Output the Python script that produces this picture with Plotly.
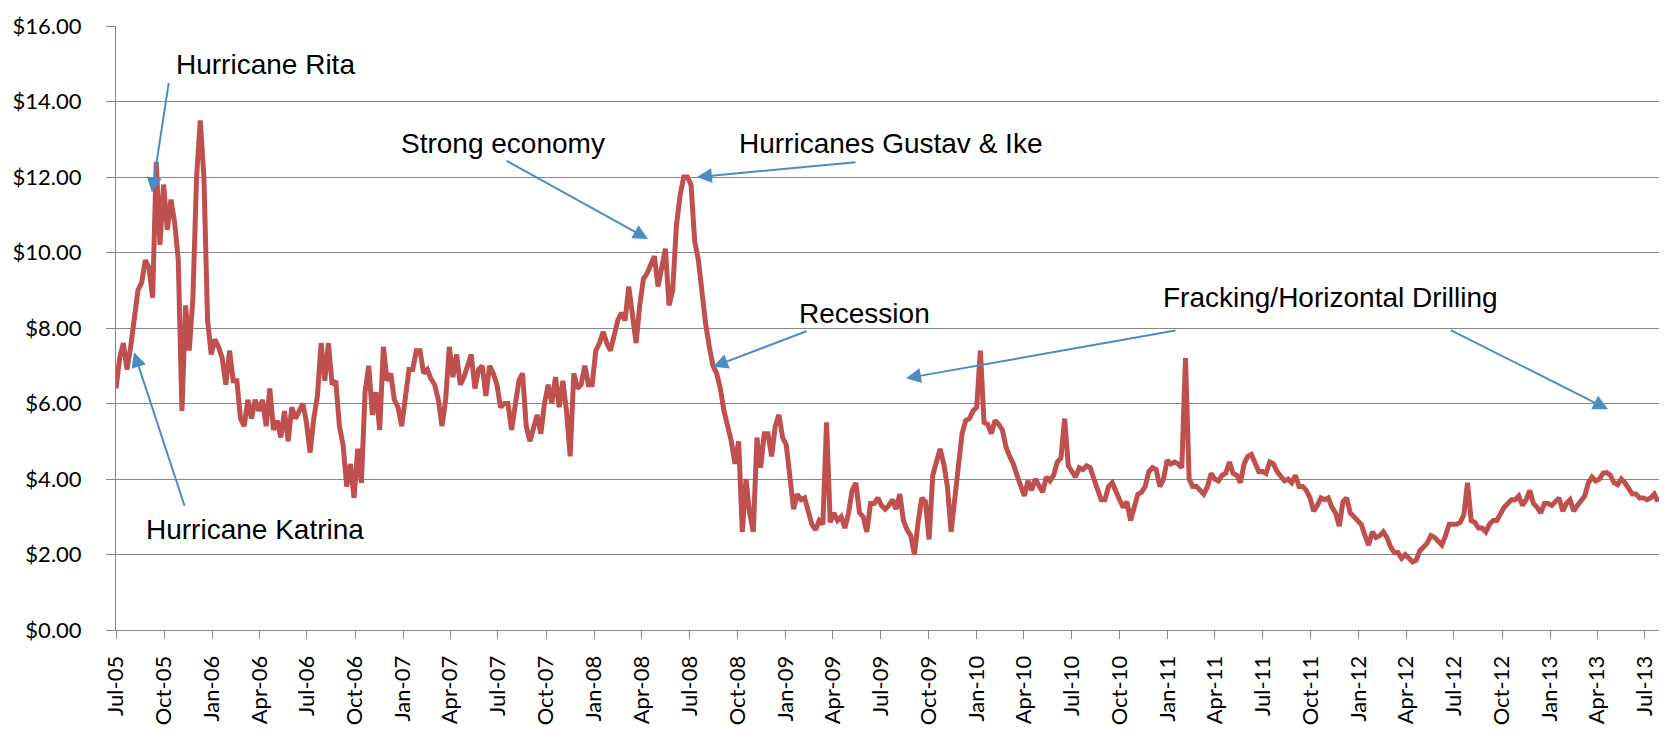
import pandas as pd
import plotly.graph_objects as go

# Henry Hub spot price, weekly samples starting 1 Jul 2005 ($/MMBtu)
start_date = "2005-07-01"
prices = [
    6.4, 7.2, 7.6, 6.9, 7.5, 8.2, 9.0, 9.2, 9.8, 9.6,
    8.8, 12.4, 10.2, 11.8, 10.6, 11.4, 10.8, 9.8, 5.8, 8.6,
    7.4, 8.8, 12.0, 13.5, 12.0, 8.2, 7.3, 7.7, 7.5, 7.2,
    6.5, 7.4, 6.6, 6.6, 5.6, 5.4, 6.1, 5.6, 6.1, 5.8,
    6.1, 5.4, 6.4, 5.3, 5.55, 5.1, 5.8, 5.0, 5.9, 5.6,
    5.8, 6.0, 5.5, 4.7, 5.6, 6.2, 7.6, 6.6, 7.6, 6.5,
    6.6, 5.4, 4.9, 3.8, 4.4, 3.5, 4.8, 3.9, 6.3, 7.0,
    5.7, 6.3, 5.3, 7.5, 6.6, 6.8, 6.1, 5.9, 5.4, 6.1,
    6.9, 6.9, 7.4, 7.4, 6.8, 6.9, 6.65, 6.5, 6.1, 5.4,
    6.1, 7.5, 6.7, 7.3, 6.5, 6.7, 7.0, 7.3, 6.4, 6.9,
    7.0, 6.2, 7.0, 6.8, 6.5, 5.9, 6.0, 6.0, 5.3, 5.9,
    6.6, 6.8, 5.4, 5.0, 5.3, 5.7, 5.2, 6.0, 6.5, 6.0,
    6.7, 5.9, 6.6, 5.8, 4.6, 6.8, 6.4, 6.5, 7.0, 6.5,
    6.5, 7.4, 7.6, 7.9, 7.6, 7.4, 7.8, 8.2, 8.4, 8.2,
    9.1, 8.4, 7.6, 8.6, 9.3, 9.45, 9.7, 9.9, 9.1, 9.6,
    10.1, 8.6, 9.0, 10.7, 11.5, 12.0, 12.0, 11.8, 10.3, 9.8,
    8.8, 8.1, 7.5, 7.0, 6.8, 6.4, 5.8, 5.4, 5.0, 4.4,
    5.0, 2.6, 4.0, 3.1, 2.6, 5.1, 4.3, 5.2, 5.2, 4.6,
    5.4, 5.7, 5.1, 4.9, 4.1, 3.2, 3.6, 3.45, 3.5, 3.15,
    2.8, 2.65, 2.9, 2.8, 5.5, 2.85, 3.1, 2.9, 3.0, 2.7,
    3.1, 3.7, 3.9, 3.1, 3.0, 2.6, 3.35, 3.35, 3.5, 3.3,
    3.2, 3.3, 3.45, 3.2, 3.6, 2.9, 2.65, 2.5, 2.0, 2.85,
    3.5, 3.4, 2.4, 4.1, 4.5, 4.8, 4.4, 3.8, 2.6, 3.5,
    4.2, 5.2, 5.55, 5.6, 5.8, 5.9, 7.4, 5.5, 5.45, 5.2,
    5.55, 5.45, 5.3, 4.85, 4.6, 4.4, 4.1, 3.8, 3.55, 3.95,
    3.7, 4.0, 3.85, 3.65, 4.05, 3.95, 4.1, 4.45, 4.55, 5.6,
    4.35, 4.2, 4.05, 4.3, 4.25, 4.35, 4.3, 4.0, 3.75, 3.45,
    3.45, 3.8, 3.9, 3.65, 3.45, 3.25, 3.4, 2.9, 3.3, 3.6,
    3.65, 3.8, 4.2, 4.3, 4.25, 3.8, 4.0, 4.5, 4.4, 4.45,
    4.4, 4.3, 7.2, 4.0, 3.8, 3.8, 3.7, 3.6, 3.8, 4.15,
    4.0, 3.95, 4.1, 4.15, 4.45, 4.15, 4.1, 3.9, 4.4, 4.6,
    4.65, 4.4, 4.2, 4.2, 4.15, 4.45, 4.4, 4.2, 4.05, 3.95,
    4.0, 3.9, 4.1, 3.8, 3.8, 3.7, 3.5, 3.15, 3.3, 3.5,
    3.45, 3.5, 3.25, 3.1, 2.75, 3.4, 3.5, 3.1, 3.0, 2.9,
    2.8, 2.5, 2.25, 2.6, 2.45, 2.5, 2.6, 2.45, 2.2, 2.05,
    2.05, 1.9, 2.0, 1.9, 1.8, 1.85, 2.1, 2.2, 2.3, 2.5,
    2.45, 2.35, 2.25, 2.5, 2.8, 2.8, 2.8, 2.85, 3.05, 3.9,
    2.9, 2.85, 2.7, 2.7, 2.6, 2.8, 2.9, 2.9, 3.1, 3.25,
    3.35, 3.45, 3.45, 3.55, 3.3, 3.45, 3.7, 3.35, 3.25, 3.1,
    3.35, 3.35, 3.3, 3.4, 3.5, 3.15, 3.35, 3.45, 3.15, 3.3,
    3.45, 3.55, 3.9, 4.05, 3.95, 4.0, 4.15, 4.17, 4.1, 3.9,
    3.85, 4.0, 3.9, 3.75, 3.6, 3.6, 3.5, 3.5, 3.45, 3.5,
    3.6, 3.4,
]
dates = pd.date_range(start_date, periods=len(prices), freq="7D")

# Event labels and the arrows pointing at the price line
labels = [
    ("Hurricane Rita", 0.0972, 0.936),
    ("Hurricane Katrina", 0.0898, 0.1667),
    ("Strong economy", 0.2508, 0.806),
    ("Hurricanes Gustav & Ike", 0.502, 0.806),
    ("Recession", 0.485, 0.524),
    ("Fracking/Horizontal Drilling", 0.7874, 0.5497),
]
# (head x, head y) in paper units, tail offset (ax, ay) in pixels
arrows = [
    (0.0233, 0.7244, 17, -111),
    (0.01167, 0.4599, 51, 155),
    (0.3448, 0.6474, -143, -79),
    (0.3765, 0.750, 160, -15),
    (0.3869, 0.4359, 95, -36),
    (0.512, 0.4167, 271, -48),
    (0.967, 0.3654, -159, -80),
]

GRID = "#878787"
ARROW = "#4A8DC6"

fig = go.Figure()
fig.add_trace(go.Scatter(
    x=dates, y=prices, mode="lines",
    line=dict(color="#C0504D", width=5),
    showlegend=False, hoverinfo="x+y",
))

annotations = []
for text, x, y in labels:
    annotations.append(dict(
        text=text, x=x, y=y, xref="paper", yref="paper",
        xanchor="center", yanchor="middle", showarrow=False,
        font=dict(family="Liberation Sans, Arial, sans-serif", size=28, color="#000000"),
    ))
for hx, hy, ax, ay in arrows:
    annotations.append(dict(
        text="", x=hx, y=hy, xref="paper", yref="paper",
        ax=ax, ay=ay, showarrow=True, arrowhead=2, arrowsize=1.5,
        arrowwidth=2, arrowcolor=ARROW, standoff=0, startstandoff=0,
    ))

tick_font = dict(family="Lato, Noto Sans, sans-serif", size=22, color="#000000")

fig.update_layout(
    width=1673, height=737,
    margin=dict(l=116, r=14, t=21, b=92, pad=0),
    paper_bgcolor="white", plot_bgcolor="white",
    annotations=annotations,
    xaxis=dict(
        type="date", range=["2005-07-01", "2013-07-28"],
        tick0="2005-07-01", dtick="M3", tickformat="%b-%y",
        tickangle=-90, ticks="outside", ticklen=8, tickwidth=1, tickcolor=GRID,
        showline=True, linecolor=GRID, linewidth=1, showgrid=False,
        zeroline=False, tickfont=tick_font, ticklabelstandoff=8,
    ),
    yaxis=dict(
        range=[0, 16], dtick=2, tickprefix="$", tickformat=".2f",
        ticks="outside", ticklen=9, tickwidth=1, tickcolor=GRID,
        showline=True, linecolor=GRID, linewidth=1,
        showgrid=True, gridcolor=GRID, gridwidth=1, zeroline=False,
        tickfont=tick_font, ticklabelstandoff=20,
    ),
)

fig.write_html("out.html")
